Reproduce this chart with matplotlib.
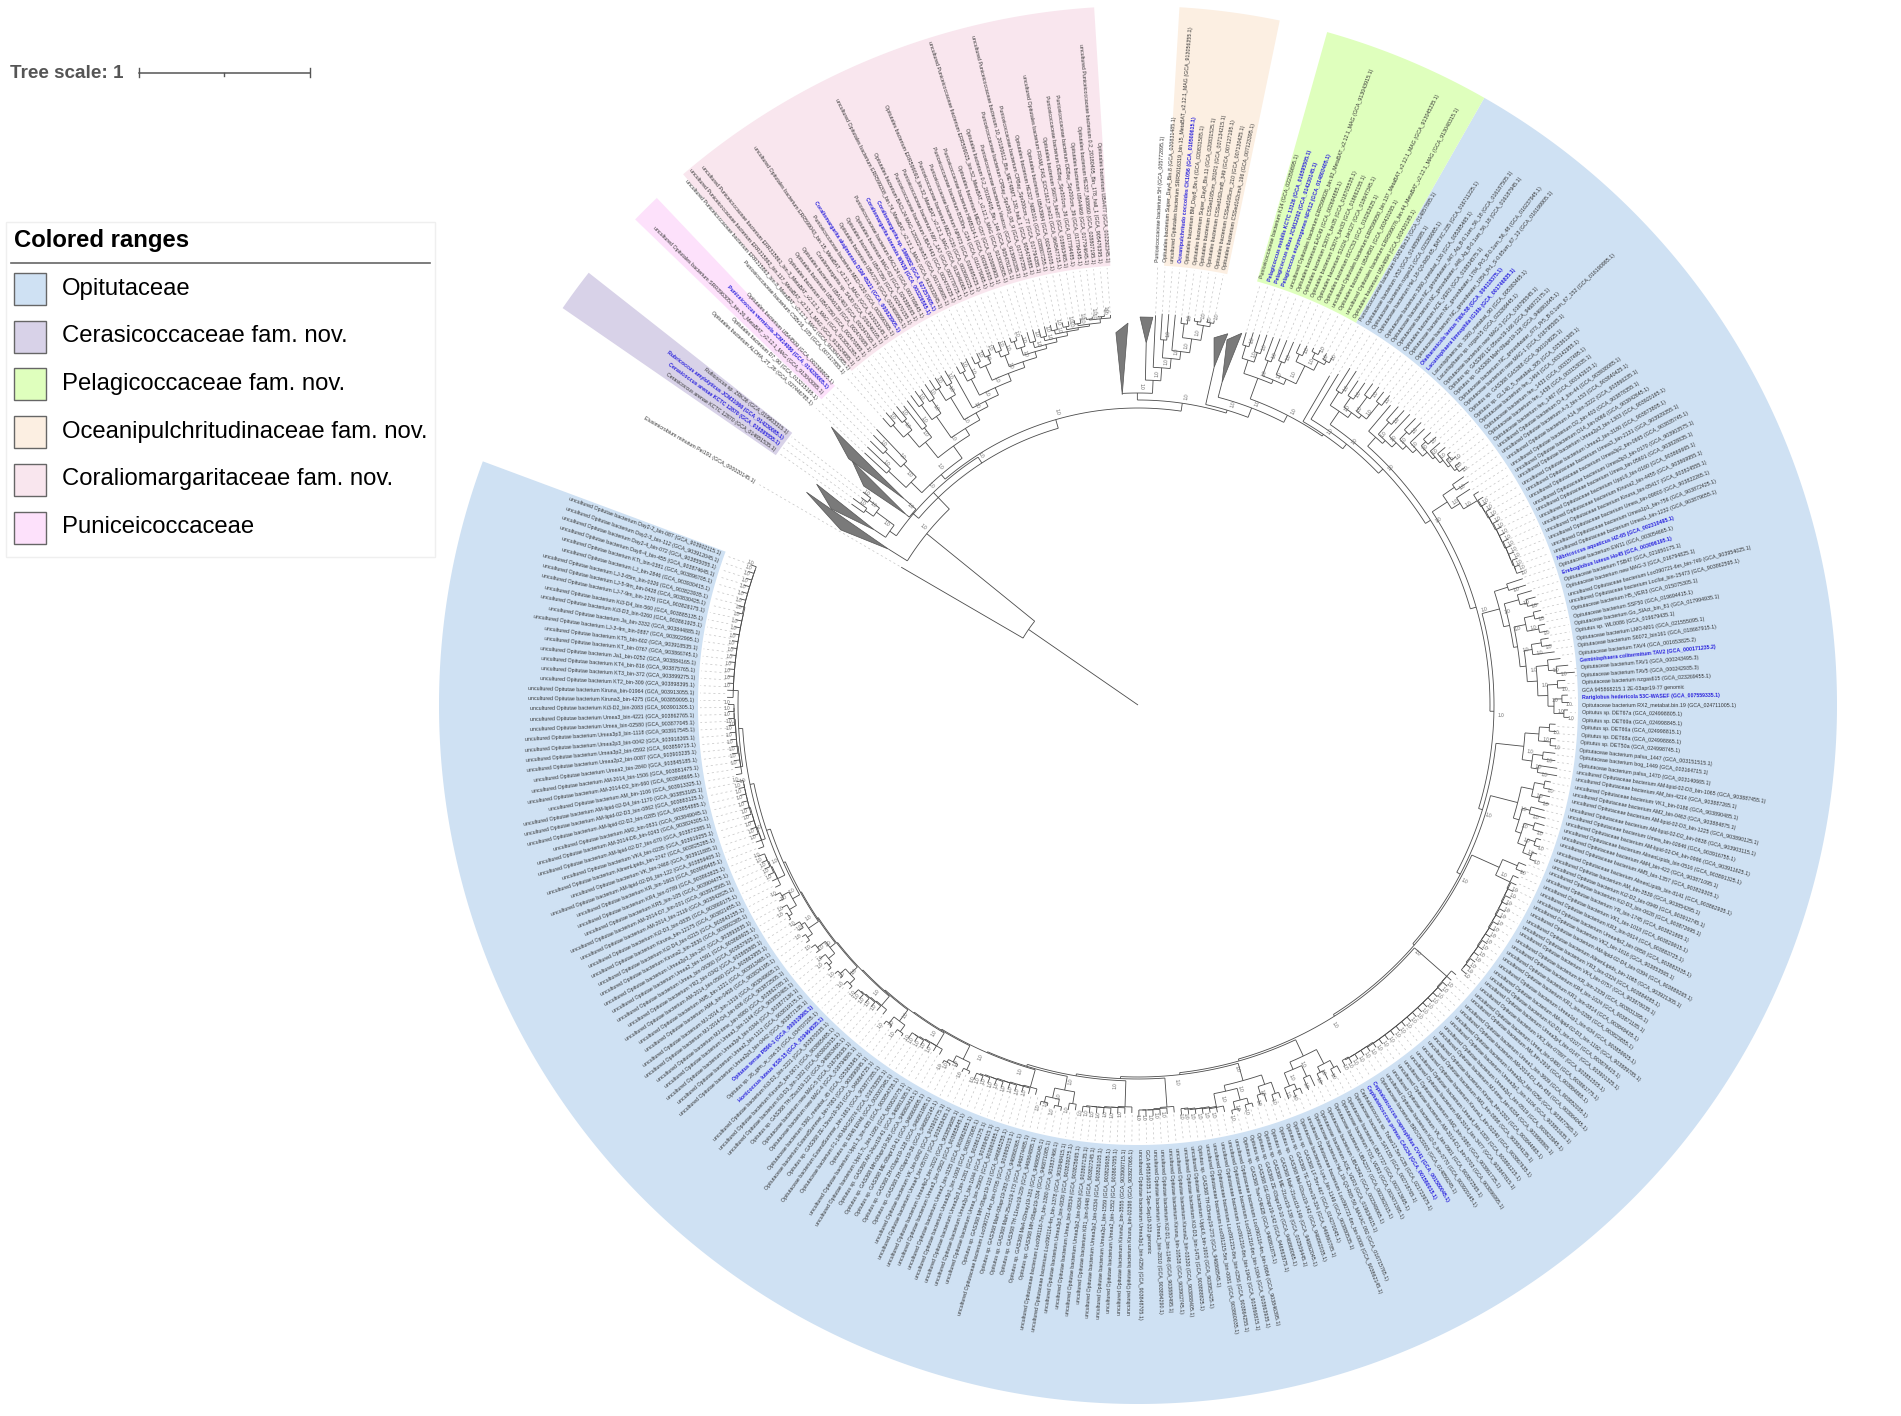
import numpy as np
import matplotlib
matplotlib.use("Agg")
import matplotlib.pyplot as plt
from matplotlib.collections import LineCollection
from matplotlib.patches import Polygon, Rectangle

plt.rcParams["font.family"] = ["Liberation Sans", "DejaVu Sans"]

W, H = 1901, 1416
CX, CY = 1138, 705

# shorthand prefixes for the leaf names
PRE = {
    "u:": "uncultured Opitutae bacterium ",
    "a:": "uncultured Opitutaceae bacterium ",
    "o:": "Opitutaceae bacterium ",
    "s:": "Opitutus sp. GAS368 ",
    "d:": "Opitutus sp. ",
    "t:": "Opitutales bacterium ",
    "p:": "Puniceicoccaceae bacterium ",
    "q:": "uncultured Puniceicoccaceae bacterium ",
    "v:": "uncultured Opitutales bacterium ",
}

BOLD_NAMES = ["Oleiharenicola", "Lacunisphaera limnophila", "Nibricoccus", "Ereboglobus",
              "Geminisphaera", "Rariglobus", "Cephaloticoccus capnophilus", "Cephaloticoccus primus",
              "Opitutus terrae", "Horticoccus", "Cerasicoccus arenae KCTC 12870 (GCA_016595555",
              "Rubricoccus amylolyticus", "Puniceicoccus", "Coraliomargarita sinensis",
              "Coraliomargarita sp. SM6882", "Coraliomargarita akajimensis", "Oceanipulchritudo",
              "Pelagicoccus"]

OUTGROUP_LABELS = ["Elusimicrobium minutum Pei191 (GCA_000020145.1)"]

CERASI_LABELS = [
    "Cerasicoccus arenae KCTC 12870 (GCA_014651535.1)",
    "Cerasicoccus arenae KCTC 12870 (GCA_016595555.1)",
    "Rubricoccus amylolyticus JCM31066 (GCA_014230085.1)",
    "Rufiicoccus sp. ZRK36 (GCA_019903315.1)",
]

PUNICEI_LABELS = [
    "t:ALOHA_2T_26 (GCA_027446785.1)",
    "t:D7_90 (GCA_013215165.1)",
    "v:SRR3963052_bin.26_MetaBAT_v2.12.1_MAG (GCA_913043085.1)",
    "Puniceicoccus vermicola JCM14086 (GCA_014230005.1)",
    "t:UBA4509 (GCA_002389805.1)",
]

CORALIO_LABELS = [
    "p:CSBr16_105 (GCA_007117855.1)",
    "q:ERR315863_bin.8_MetaBAT_v2.12.1_MAG (GCA_913041985.1)",
    "q:ERR315862_bin.117_MetaBAT_v2.12.1_MAG (GCA_913024985.1)",
    "q:ERR315861_bin.3_MetaBAT_v2.12.1_MAG (GCA_913051265.1)",
    "t:UBA7350 (GCA_002470855.1)",
    "t:UBA6139 (GCA_002470685.1)",
    "t:UBA1463 (GCA_002347065.1)",
    "Coraliomargarita sp. S4J0 (GCA_006246165.1)",
    "v:ERR599043_bin.15_MetaBAT_v2.12.1_MAG (GCA_913023145.1)",
    "p:MED-G30 (GCA_002690385.1)",
    "Coraliomargarita akajimensis DSM 45221 (GCA_000025905.1)",
    "t:UBA7274 (GCA_002469865.1)",
    "t:UBA7350 (GCA_002470155.1)",
    "t:MAG-63 (GCA_024398065.1)",
    "p:BACL24 (GCA_001769645.1)",
    "Coraliomargarita sinensis WN38 (GCA_003226565.1)",
    "Coraliomargarita sp. SM6882 (GCA_027257905.1)",
    "v:ERR599208_bin.74_MetaBAT_v2.12.1_MAG (GCA_913032845.1)",
    "t:BACL24 MAG-120322-bin51 (GCA_001769685.1)",
    "p:UBA7443 (GCA_002470225.1)",
    "p:N9Y_1A7 (GCA_002779725.1)",
    "t:ERR599093_bin.32_MetaBAT_v2.12.1_MAG (GCA_913046065.1)",
    "p:MED-G30 (GCA_002690225.1)",
    "p:NP973 (GCA_018695225.1)",
    "p:BS30m_G34 (GCA_016179065.1)",
    "p:HIMB114-1 (GCA_002691905.1)",
    "t:MED-G57 (GCA_002689905.1)",
    "q:ERR599025_bin.52_MetaBAT_v2.12.1_MAG (GCA_913003505.1)",
    "t:0.2_20180405_Bin_144 (GCA_905476135.1)",
    "p:Vestcoc (GCA_913060285.1)",
    "p:CPBay_Spr300_08_9 (GCA_017797255.1)",
    "q:10_20180612_Bin_MET48MT_130_hall_1 (GCA_905478885.1)",
    "p:CPBay_Spr200cm_77 (GCA_017794285.1)",
    "t:HE327_N0B101 (GCA_028807255.1)",
    "t:UBA3984 (GCA_002430005.1)",
    "v:FRAM_FAS_EOC1617_bin21 (GCA_964547715.1)",
    "t:S6075_bin87 (GCA_018663465.1)",
    "p:DEBay_Spr300cm_36 (GCA_017794485.1)",
    "p:DEBay_Spr200cm_39 (GCA_017794345.1)",
    "t:UBA4469 (GCA_017794645.1)",
    "t:HE327_N08660 (GCA_028807195.1)",
    "q:0.2_20180405_Bin_178_hall_1 (GCA_905476395.1)",
    "t:UBA477 (GCA_002292345.1)",
]

OCEANI_LABELS = [
    "p:5H (GCA_005772895.1)",
    "t:Super_Day4_Bin.8 (GCA_020831485.1)",
    "v:SRR5016319_bin.15_MetaBAT_v2.12.1_MAG (GCA_913056355.1)",
    "Oceanipulchritudo coccoides CK1056 (GCA_010500615.1)",
    "t:BM_Day8_Bin.4 (GCA_020831585.1)",
    "t:Super_Day8_Bin.11 (GCA_020831525.1)",
    "t:CSSed165cm_301R1 (GCA_007134215.1)",
    "t:CSSed162cmB_349 (GCA_007127195.1)",
    "t:CSSed165cm_210 (GCA_007130425.1)",
    "t:CSSed162cmA_196 (GCA_007123395.1)",
]

PELAGI_LABELS = [
    "p:K14 (GCA_022359895.1)",
    "Pelagicoccus mobilis KCTC 13126 (GCA_016595505.1)",
    "Pelagicoccus albus JCM12202 (GCA_014230145.1)",
    "Pelagicoccus enzymogenes NFK12 (GCA_014803405.1)",
    "v:ERR599026_bin.92_MetaBAT_v2.12.1_MAG (GCA_913043915.1)",
    "t:EAC49 (GCA_002694885.1)",
    "t:S3074_bin35 (GCA_018705535.1)",
    "t:S3074_bin33 (GCA_018662155.1)",
    "t:S1024_bin127 (GCA_018647345.1)",
    "t:ISCC53 (GCA_018262825.1)",
    "v:ERR599050_bin.137_MetaBAT_v2.12.1_MAG (GCA_913045235.1)",
    "t:UBA4581 (GCA_003420265.1)",
    "v:ERR599076_bin.44_MetaBAT_v2.12.1_MAG (GCA_913048315.1)",
    "t:UBA4894 (GCA_003420185.1)",
]

# clockwise from the green range down the right side, along the bottom and up the left
OPITU_LABELS = [
    "p:PLM2 Bin13 (GCA_014857885.1)", "o:V53 (GCA_014859685.1)", "o:nzgas21 (GCA_023269085.1)",
    "o:Hel_18-Q3-R65-65_BATXC.235 (GCA_016711225.1)", "o:3360_metabat_126 (GCA_005385465.1)",
    "o:NC_groundwater_447_Ag_B-0.1um_56_18 (GCA_016187505.1)",
    "o:NC_groundwater_448_Ag_B-0.1um_56_18 (GCA_016187945.1)", "t:ACE_VER3 (GCA_018834575.1)",
    "o:NC_groundwater_1784_Pr3_B-0.1um_56_48 (GCA_016237945.1)",
    "o:NC_groundwater_1054_Pr1_S-0.65um_67_13 (GCA_016199905.1)",
    "Oleiharenicola lentus TWA-58 (GCA_004118375.1)", "Lacunisphaera limnophila IG16b (GCA_001746835.1)",
    "Lacunisphaera sp. 3360_metabat_90 (GCA_005383465.1)", "Lacunisphaera sp. nzgas15 (GCA_023269445.1)",
    "o:new MAG-3 (GCA_016795545.1)", "s:LE-05nov19-166 (GCA_946872175.1)",
    "s:MaH-09apr19-128 (GCA_946861645.1)", "o:NC_groundwater_673_Pr5_B-0.1um_67_152 (GCA_016190985.1)",
    "o:new MAG-1 (GCA_016795565.1)", "s:GAS368 (GCA_900104925.1)", "d:GL140_5_metabat_305 (GCA_025361365.1)",
    "o:fen_1464 (GCA_003142955.1)", "o:fen_1433 (GCA_003157495.1)", "o:fen_1438 (GCA_003153035.1)",
    "o:fen_1467 (GCA_003142615.1)", "u:D-4_bin-44 (GCA_903938085.1)", "u:A-3_bin-153 (GCA_903840425.1)",
    "u:A14_bin-3222 (GCA_903866235.1)", "u:D2_bin-403 (GCA_903878355.1)", "u:D14_bin-0066 (GCA_903842645.1)",
    "u:Umea2p3_bin-1303 (GCA_903920165.1)", "u:Umea2_bin-3180 (GCA_903873805.1)",
    "a:Umea3_bin-2131 (GCA_903929355.1)", "a:Umea3p2_bin-0665 (GCA_903835745.1)",
    "a:Umea3p3_bin-0170 (GCA_903903575.1)", "a:Umea_bin-05601 (GCA_903828835.1)",
    "a:UppL6_bin-0160 (GCA_903869665.1)", "a:Kiruna2_bin-4455 (GCA_903869955.1)",
    "a:Kiruna_bin-05417 (GCA_903824555.1)", "a:Umea_bin-09803 (GCA_903822265.1)",
    "a:Umea1p1_bin-756 (GCA_903872425.1)", "a:Umea1_bin-1232 (GCA_903879655.1)",
    "Nibricoccus aquaticus HZ-65 (GCA_002310495.1)", "o:EW11 (GCA_003054665.1)",
    "Ereboglobus luteus Ho45 (GCA_003096195.1)", "o:TSB47 (GCA_021650175.1)", "o:new MAG-3 (GCA_016794825.1)",
    "a:Loc090721-6m_bin-749 (GCA_903954025.1)", "a:LocIlat_bin-15473 (GCA_903862595.1)",
    "o:H5_VER3 (GCA_015075305.1)", "o:SSF50 (GCA_019694415.1)", "o:Go_SlAct_bin_81 (GCA_017994935.1)",
    "d:WL0086 (GCA_019679435.1)", "o:LMO-M01 (GCA_021555095.1)", "o:S6072_bin161 (GCA_018667915.1)",
    "o:TAV4 (GCA_001653825.2)", "Geminisphaera colitermitum TAV2 (GCA_000171235.2)", "o:TAV1 (GCA_000243495.3)",
    "o:TAV5 (GCA_000242935.3)", "o:nzgas615 (GCA_023269455.1)", "GCA 945868215.1 2E-03apr19-77 genomic",
    "Rariglobus hedericola 53C-WASEF (GCA_007559335.1)", "o:RX2_metabat.bin.19 (GCA_024711005.1)",
    "d:DET67a (GCA_024998805.1)", "d:DET69a (GCA_024998845.1)", "d:DET66a (GCA_024998815.1)",
    "d:DET68a (GCA_024998865.1)", "d:DET50a (GCA_024998745.1)", "o:palsa_1447 (GCA_003151515.1)",
    "o:bog_1449 (GCA_003164715.1)", "o:palsa_1470 (GCA_003140665.1)",
    "a:AM-lipid-02-D3_bin-1065 (GCA_903887455.1)", "a:AM_bin-4214 (GCA_903887265.1)",
    "a:VK1_bin-0186 (GCA_903890485.1)", "a:AM2_bin-0463 (GCA_903884875.1)",
    "a:AM-lipid-02-D3_bin-1225 (GCA_903890125.1)", "a:AM-lipid-02-D2_bin-0838 (GCA_903903115.1)",
    "a:Umea_bin-02646 (GCA_903916755.1)", "a:AM-lipid-02-D4_bin-0996 (GCA_903911625.1)",
    "a:AlinenLipids_bin-0516 (GCA_903891325.1)", "a:AM4_bin-422 (GCA_903871095.1)",
    "a:AM5_bin-1357 (GCA_903829305.1)", "a:AlinenLipids_bin-8141 (GCA_903862935.1)",
    "u:AM_bin-3539 (GCA_903854295.1)", "u:Ki2-D2_bin-0949 (GCA_903912745.1)",
    "u:Ki2-D3_bin-0628 (GCA_903872695.1)", "u:YR_bin-1745 (GCA_903821865.1)",
    "u:VK1_bin-1018 (GCA_903829915.1)", "u:KR3_bin-0614 (GCA_903883725.1)",
    "u:Umea4p2_bin-0858 (GCA_903883335.1)", "u:VK2_bin-1616 (GCA_903853565.1)",
    "u:AM-lipid-02-D4_bin-0394 (GCA_903889265.1)", "u:AlinenLipids_bin-1065 (GCA_903921305.1)",
    "u:YR3_bin-0324 (GCA_903884085.1)", "u:VK4_bin-0757 (GCA_903878035.1)", "u:KR_bin-2339 (GCA_903831395.1)",
    "u:KR4_bin-1024 (GCA_903871185.1)", "u:KR1_bin-0814 (GCA_903849435.1)", "u:KR1_bin-0288 (GCA_903823855.1)",
    "u:Umea1p1_bin-634 (GCA_903859925.1)", "u:AM-lipid-02-D3_bin-1192 (GCA_903889785.1)",
    "u:Ki2-D1_bin-0107 (GCA_903876415.1)", "u:Umea3p4_bin-0147 (GCA_903901325.1)",
    "u:VK3_bin-07897 (GCA_903851505.1)", "u:Umea_bin-0480 (GCA_903861775.1)", "u:AM_bin-2916 (GCA_903864865.1)",
    "u:Umea1_bin-3609 (GCA_903852035.1)", "u:AM-2014-D1_bin-456 (GCA_903864045.1)",
    "u:Umea2p2_bin-0256 (GCA_903877565.1)", "u:Umea3p1_bin-1104 (GCA_903851635.1)",
    "u:Umea2p1_bin-0519 (GCA_903823945.1)", "u:MJ-time_bin-6334 (GCA_903888865.1)",
    "u:Kiruna_bin-2202 (GCA_903844865.1)", "u:AM1_bin-0898 (GCA_903834135.1)",
    "u:Kiruna1_bin-02240 (GCA_903867635.1)", "u:Umea4_bin-1820 (GCA_903891215.1)",
    "u:AM-2014_bin-3477 (GCA_903847815.1)", "u:AM2_bin-0980 (GCA_903861735.1)",
    "u:AM-2014-D1_bin-0703 (GCA_903896995.1)", "u:VK_bin-0901 (GCA_903872565.1)",
    "u:Ki2-0_bin-0770 (GCA_903920145.1)", "o:BROOKS003 (GCA_014859245.1)",
    "Cephaloticoccus capnophilus CV41 (GCA_001580045.1)", "Cephaloticoccus primus CAG34 (GCA_001580015.1)",
    "Cephaloticoccus sp. Tobar12.5m-G35 (GCA_021723975.1)", "o:SAT155 (GCA_002718765.1)",
    "o:UBA7727 (GCA_002713695.1)", "o:TOS_VER3 (GCA_002471395.1)", "o:UBA2377 (GCA_002362015.1)",
    "o:UBA2842 (GCA_002349065.1)", "o:AOE_VER3 (GCA_019634615.1)",
    "o:Hel_19-Q3-R65-59_MAXAC.092 (GCA_016715765.1)", "a:Loc090721-6m_bin-0008 (GCA_903862145.1)",
    "o:Lyac_bin-1149 (GCA_903880535.1)", "s:LF-5nv-467 (GCA_014270045.1)", "s:TE-12nov19-324 (GCA_946860785.1)",
    "s:MeI-02oct19-142 (GCA_946862035.1)", "s:MaK-21oct19-149 (GCA_946862045.1)",
    "s:ME-21oct19-138 (GCA_002509445.1)", "s:ZE-03apr19-10 (GCA_946868065.1)",
    "s:GE-02apr19-142 (GCA_946863875.1)", "s:Tsw-O4KEB (GCA_946861875.1)",
    "a:Loc090116-4m_bin-0984 (GCA_903846395.1)", "a:Loc091216-6m_bin-1004 (GCA_903863935.1)",
    "a:Loc091216-8m_bin-1942 (GCA_903866815.1)", "a:Loc091215-8m_bin-0256 (GCA_903864255.1)",
    "a:Loc091215-5m_bin-0081 (GCA_903860035.1)", "s:TH-03may19-273 (GCA_946868545.1)",
    "u:UppL6_bin-1600 (GCA_903952425.1)", "u:Ki3-D3_bin-1475 (GCA_903888825.1)",
    "u:Kiruna2_bin-03320 (GCA_903888405.1)", "u:Kiruna_bin-10528 (GCA_903902745.1)",
    "u:Ki2-D1_bin-1146 (GCA_903880495.1)", "u:Umea1_bin-2810 (GCA_903894290.1)",
    "GCA 945816035.1 Spe-Sep19-323 genomic", "u:Umea3p1_bin-0256 (GCA_903848705.1)",
    "u:Kiruna_bin-02398 (GCA_903927065.1)", "u:Kiruna2_bin-3555 (GCA_903900715.1)",
    "u:Umea2_bin-1552 (GCA_903867055.1)", "u:Umea2p1_bin-1559 (GCA_903829935.1)",
    "u:Umea3p2_bin-0334 (GCA_903826105.1)", "u:KR1_bin-0448 (GCA_903827245.1)",
    "u:Umea3p2_bin-0634 (GCA_903867135.1)", "u:Umea_bin-08534 (GCA_903825665.1)",
    "u:Umea3p3_bin-0826 (GCA_903839375.1)", "a:Loc090114-4m_bin-1378 (GCA_903848415.1)",
    "a:Loc090116-7m_bin-1380 (GCA_903837466.1)", "s:MH-08apr19-334 (GCA_946871085.1)",
    "s:MeA-02may19-181 (GCA_946865045.1)", "s:TH-11nov19-229 (GCA_946864885.1)",
    "s:MaH-25oct19-173 (GCA_946874485.1)", "s:MaH-08apr19-283 (GCA_946868365.1)",
    "a:Loc090721-4m_bin-0705 (GCA_903865015.1)", "s:MH-08apr19-110 (GCA_946865255.1)",
    "u:Umea_bin-25902 (GCA_903860885.1)", "u:Umea2p1_bin-1044 (GCA_903864515.1)",
    "u:Umea2p3_bin-1281 (GCA_903861275.1)", "u:Umea3p1_bin-1008 (GCA_903873085.1)",
    "u:Umea2_bin-3155 (GCA_903862855.1)", "u:Umea3_bin-0562 (GCA_903885845.1)",
    "u:Umea4p2_bin-2022 (GCA_903859685.1)", "u:Umea4_bin-05707 (GCA_903828435.1)",
    "u:VK_bin-0842 (GCA_903906775.1)", "s:ZH-03apr19-36 (GCA_946882145.1)",
    "s:ZH-03apr19-128 (GCA_946861985.1)", "s:ME-08apr19-41 (GCA_946860905.1)",
    "s:MH-08apr19-363 (GCA_946863415.1)", "s:AH-24oct19-41 (GCA_946861305.1)",
    "u:Upp1.7L_bin-1095 (GCA_903820775.1)", "u:Upp1.3_bin-435 (GCA_903854735.1)", "d:ER46 ER46 (GCA_002007945.1)",
    "o:F1-140-MAGS074 (GCA_016783555.1)", "o:ExtendSummer_bin-1681 (GCA_903877285.1)",
    "s:ZE-13nov19-303 (GCA_946864725.1)", "o:ExtendSummer_bin-7083 (GCA_903890845.1)",
    "o:3360_metabat_45 (GCA_025363845.1)", "o:new MAG-4 (GCA_016794865.1)", "o:new MAG-5 (GCA_016795635.1)",
    "s:TH-25oct19-122 (GCA_946863485.1)", "u:Ki3-D3_bin-1202 (GCA_903902915.1)",
    "u:Kiruna3_bin-0671 (GCA_903865485.1)", "u:Ki3-D2_bin-2221 (GCA_903870035.1)",
    "Horticoccus luteus KS8-15 (GCA_019464535.1)", "d:26_gtm_w_csw.15 (GCA_034707205.1)",
    "Opitutus terrae PB90-1 (GCA_000019965.1)", "u:Umea2p3_bin-0442 (GCA_903877135.1)",
    "u:Umea2_bin-1112 (GCA_903819175.1)", "u:Umea3p4_bin-0344 (GCA_903877136.1)",
    "u:Umea3_bin-1144 (GCA_903852465.1)", "u:MJ-time_bin-8980 (GCA_903862785.1)",
    "u:MJ-2014-D4_bin-606 (GCA_903872505.1)", "u:MJ-2014_bin-1319 (GCA_903849605.1)",
    "u:AM4_bin-0408 (GCA_903824195.1)", "u:AM5_bin-1221 (GCA_903913465.1)",
    "u:AM-2014_bin-0560 (GCA_903862955.1)", "u:YR2_bin-0342 (GCA_903865865.1)",
    "u:Umea_bin-06360 (GCA_903837905.1)", "u:Umea2_bin-1591 (GCA_903869925.1)",
    "u:Umea2p3_bin-247 (GCA_903893835.1)", "u:Kiruna2_bin-2830 (GCA_903892385.1)",
    "u:Ki2-D4_bin-0215 (GCA_903843155.1)", "u:Kiruna_bin-12175 (GCA_903821455.1)",
    "u:Ki2-D3_bin-0835 (GCA_903869175.1)", "u:AM-2014_bin-2119 (GCA_903842825.1)",
    "u:AM-2014-D7_bin-001 (GCA_903913565.1)", "u:KR5_bin-105 (GCA_903904475.1)",
    "u:KR4_bin-0789 (GCA_903863825.1)", "u:KR_bin-1663 (GCA_903909485.1)",
    "u:AM-lipid-02-D6_bin-122 (GCA_903859405.1)", "u:VK_bin-2468 (GCA_903911885.1)",
    "u:AlinenLipids_bin-2747 (GCA_903825285.1)", "u:VK4_bin-0235 (GCA_903919255.1)",
    "u:AM-lipid-02-D7_bin-670 (GCA_903872385.1)", "u:AM-2014-D8_bin-0243 (GCA_903824305.1)",
    "u:AM2_bin-0831 (GCA_903849045.1)", "u:AM-lipid-02-D2_bin-0285 (GCA_903854885.1)",
    "u:AM-lipid-02-D3_bin-0862 (GCA_903883125.1)", "u:AM-lipid-02-D4_bin-1170 (GCA_903853165.1)",
    "u:AM_bin-1106 (GCA_903913325.1)", "u:AM-2014-D2_bin-660 (GCA_903848695.1)",
    "u:AM-2014_bin-1506 (GCA_903881475.1)", "u:Umea2_bin-2840 (GCA_903845185.1)",
    "u:Umea2p2_bin-0087 (GCA_903903235.1)", "u:Umea3p2_bin-0592 (GCA_903859715.1)",
    "u:Umea2p3_bin-0042 (GCA_903918265.1)", "u:Umea3p3_bin-1118 (GCA_903917545.1)",
    "u:Umea_bin-02580 (GCA_903877045.1)", "u:Umea3_bin-4221 (GCA_903862765.1)",
    "u:Ki3-D2_bin-2083 (GCA_903901305.1)", "u:Kiruna3_bin-4275 (GCA_903859095.1)",
    "u:Kiruna_bin-01964 (GCA_903913055.1)", "u:KT2_bin-309 (GCA_903898395.1)",
    "u:KT3_bin-372 (GCA_903899275.1)", "u:KT4_bin-816 (GCA_903875765.1)", "u:Ja1_bin-0252 (GCA_903884165.1)",
    "u:KT_bin-0767 (GCA_903866745.1)", "u:KT5_bin-602 (GCA_903918535.1)", "u:LJ-3-4m_bin-0887 (GCA_903922995.1)",
    "u:Ja_bin-3332 (GCA_903844885.1)", "u:Ki3-D3_bin-0260 (GCA_903861925.1)", "u:Ki3-D4_bin-560 (GCA_903885135.1)",
    "u:LJ-7-9m_bin-1276 (GCA_903826175.1)", "u:LJ-5-9m_bin-0428 (GCA_903830425.1)",
    "u:LJ-3-65m_bin-0326 (GCA_903823935.1)", "u:LJ_bin-2846 (GCA_903930415.1)", "u:KTt_bin-0381 (GCA_903896705.1)",
    "u:Day6-4_bin-455 (GCA_903874645.1)", "u:Day2-4_bin-072 (GCA_903855055.1)", "u:Day2-3_bin-112 (GCA_903912045.1)",
    "u:Day2-2_bin-087 (GCA_903902115.1)",
]

LEGEND_NAMES = ["Opitutaceae", "Cerasicoccaceae fam. nov.", "Pelagicoccaceae fam. nov.",
                "Oceanipulchritudinaceae fam. nov.", "Coraliomargaritaceae fam. nov.", "Puniceicoccaceae"]
LEGEND_COLORS = ["#cfe1f3", "#d8d2e8", "#dfffbd", "#fcefe2", "#f9e6ee", "#fde1fb"]

# (colour, start angle, end angle) in degrees, clockwise
RANGES = [("#cfe1f3", 60.3, -200.4), ("#d8d2e8", 145.4, 141.8), ("#dfffbd", 74.3, 60.3),
          ("#fcefe2", 86.6, 78.3), ("#f9e6ee", 130.6, 93.6), ("#fde1fb", 136.0, 133.5)]


def lad(rs, clades):
    node = clades[-1]
    for r, c in zip(rs[::-1], clades[-2::-1]):
        node = (r, c, node)
    return node


def comb(*tips):
    node = (min(tips[-2:]) - 6, tips[-2], tips[-1])
    for t in tips[-3::-1]:
        node = (t - 6, t, node)
    return node


# tree nodes: (radius, child, child, ...), a plain int is a tip radius,
# ("T", ...) is a collapsed clade: apex angle/radius then the two far corners
T1 = ("T", 148.0, 294, 149.5, 345, 147.3, 394)
T2 = ("T", 146.4, 316, 147.4, 364, 145.5, 390)
T3 = ("T", 138.6, 311, 139.6, 380, 137.8, 414)
T4 = ("T", 140.6, 300, 141.4, 351, 139.5, 376)
T5 = ("T", 88.7, 362, 89.7, 388, 87.8, 388)
T6 = ("T", 77.3, 346, 78.3, 375, 76.4, 382)
T7 = ("T", 75.4, 333, 76.3, 376, 74.4, 386)
T8 = ("T", 92.9, 311, 93.4, 373, 91.5, 382)

CERASI_TREE = (325, (335, 350, 352), (338, 346, 348))
PUNICEI_TREE = (318, (342, 372, 374), (336, (358, 376, 378), 380))
CORALIO_TREE = lad(
    [318, 326, 334, 340, 348, 356, 362, 368, 372, 376, 380, 382, 384],
    [(338, (356, (372, 384, 386), (368, 382, 384)), (350, 380, 382)),
     (352, (370, 384, 385), (368, 383, 385)),
     (360, (374, 386, 385), (372, 384, 386)),
     378,
     (366, (376, 384, 386), 387),
     (372, (378, 386, 387), (380, 388, 386)),
     (374, (380, 388, 389), 388),
     (376, (384, 389, 388), 388),
     (378, 389, 390),
     (380, 389, 390),
     (384, 390, 391),
     (385, 390, 390),
     (386, 390, 391),
     (388, (389, 391, 391), (390, 391, 392), 391)])
OCEANI_TREE = (338, 390, (348, (366, 392, 392), (356, 392, (370, (384, 390, 392),
               (385, (388, 391, 391), (389, 392, 392))))))
PELAGI_TREE = (348, (362, (375, 388, 390), (372, 390, 392)),
               (352, (368, 392, 393), (358, (372, 394, 395), (378, (386, 396, 397),
                (388, (394, 398, 399), (392, 399, 399))))))
OPITU_R = [328, 334, 340, 346, 352, 356, 360, 364, 366, 368, 370, 372, 374, 376, 378, 379, 380, 381,
           382, 383, 384, 385, 386, 388, 392, 396, 400]
OPITU_CLADES = [
    381,
    387,
    (356, (372, 398, 399), (362, (374, 392, 394), (366, (384, 398, 399), (386, 398, 399)))),
    (358, 392, (362, (378, 396, 397), (368, 398, (373, (383, 399, 400), (378, 398, (384, (390, 400, 401),
     (387, 400, (391, 401, (394, (398, 402, 403), (397, 403, 404)))))))))),
    (370, (384, 398, 399), (380, 396, comb(402, 403, 403, 404, 404, 405, 405, 405, 406, 406, 406, 407, 407, 408))),
    (374, (388, 405, 406), (380, (395, 410, (402, 412, 413)), (384, (396, (406, 414, 415), (408, 415, 416)),
     (390, (398, (408, 416, 418), 420),
      (400, (412, 425, (420, 432, 438)), (410, (420, 428, 428), (416, (424, 430, 431), (426, 430, 431)))))))),
    (388, (402, (412, 418, 419), (414, 419, 420)), (398, (408, 420, 421), (405, 424, 425))),
    (392, (404, (414, 420, 422), (412, 422, 423)), (398, (406, 420, 423),
     (404, (414, 424, 425), (412, (420, 425, 426), (421, 426, 427))))),
    (396, (412, 420, 421), comb(418, 419, 419, 420, 420, 421, 421, 422, 422, 422, 423, 423, 423, 424, 424, 424)),
    comb(417, 417, 418, 418, 418, 418, 418, 418, 418, 418, 418, 418, 418, 418, 418, 417, 417, 417, 417, 417, 416),
    (388, (404, (412, 420, 421), (410, 420, 422)), (396, (408, 420, 421), (410, (416, 422, 423), 422))),
    (390, (400, (412, 418, 419), (408, 417, 418)), (396, (408, (414, 418, 419), (416, 419, 420)),
     comb(416, 415, 414, 414, 413, 412, 412))),
    comb(409, 410, 411, 411, 411, 412),
    comb(408, 409, 409, 410, 410, 410, 411, 411),
    (392, (404, 410, 411), (402, (409, 413, 412), (408, 411, 412))),
    comb(403, 404, 404, 405, 405, 406, 406, 407, 408, 409),
    (395, (403, 406, 407), (402, 405, (405, 407, 408))),
    comb(402, 402, 403, 404, 404, 405),
    (396, (404, 407, 408), (404, 407, 408)),
    comb(401, 402, 403, 404, 405, 405),
    (394, (401, 405, 406), (401, 404, 405)),
    (392, (400, (404, 408, 407), 407), (402, 406, 407)),
    (398, (404, 408, 408), (402, 407, 409)),
    (396, (404, (408, 410, 410), 410), (404, 409, 410)),
    comb(406, 406, 407, 408, 408, 409),
    comb(406, 406, 407, 407, 407, 408, 408, 408, 408, 408, 409),
    comb(408, 408, 408, 409, 409, 409, 409, 410, 410, 410, 410),
    comb(411, 411, 411, 411, 411, 411, 411, 411, 411, 411, 411, 411, 412, 412, 412, 412, 412, 412, 412, 412),
]
OPITU_TREE = lad(OPITU_R, OPITU_CLADES)

ORANGE_NODE = (325, T5, OCEANI_TREE)
MIDDLE_NODE = (312, T8, ORANGE_NODE)
RIGHT_NODE = (308, T6, (318, T7, (326, PELAGI_TREE, OPITU_TREE)))
UPPER_NODE = (303, PUNICEI_TREE, CORALIO_TREE)
BIG_NODE = (297, UPPER_NODE, (305, MIDDLE_NODE, RIGHT_NODE))
LEFT_NODE = (288, (296, T4, T3), BIG_NODE)
MAIN_NODE = (272, T1, (295, (303, T2, CERASI_TREE), LEFT_NODE))
ROOT_NODE = (133, 274, MAIN_NODE)

# tip order, clockwise: (subtree, start angle, end angle, labels)
TIP_GROUPS = [(274, 149.8, 149.8, OUTGROUP_LABELS),
              (CERASI_TREE, 145.4, 141.8, CERASI_LABELS),
              (PUNICEI_TREE, 137.8, 133.0, PUNICEI_LABELS),
              (CORALIO_TREE, 132.1, 93.6, CORALIO_LABELS),
              (OCEANI_TREE, 87.9, 78.3, OCEANI_LABELS),
              (PELAGI_TREE, 74.3, 60.3, PELAGI_LABELS),
              (OPITU_TREE, 60.3, -200.4, OPITU_LABELS)]


def xy(angle, r):
    t = np.radians(angle)
    return CX + r * np.cos(t), CY - r * np.sin(t)


def count_tips(node):
    if isinstance(node, int):
        return 1
    if node[0] == "T":
        return 0
    return sum(count_tips(k) for k in node[1:])


def spaced(a0, a1, n):
    if n == 1:
        return [a0]
    return [a0 + (i + 0.5) * (a1 - a0) / n for i in range(n)]


tip_queue = []
for sub, a0, a1, _ in TIP_GROUPS:
    tip_queue += spaced(a0, a1, count_tips(sub))
tip_queue = iter(tip_queue)

segments = []
triangles = []
tips = []
nodes = []


def layout(node):
    if isinstance(node, int):
        a = next(tip_queue)
        tips.append((a, node))
        return a, node
    if node[0] == "T":
        triangles.append(node)
        return node[1], node[2]
    r = node[0]
    kids = [layout(k) for k in node[1:]]
    for a, kr in kids:
        segments.append([xy(a, r), xy(a, kr)])
    first, last = kids[0][0], kids[-1][0]
    steps = max(2, int(abs(first - last)) + 2)
    segments.append([xy(t, r) for t in np.linspace(first, last, steps)])
    mid = (first + last) / 2
    nodes.append((mid, r))
    return mid, r


root_angle, root_r = layout(ROOT_NODE)
segments.append([xy(root_angle, 0), xy(root_angle, root_r)])

fig = plt.figure(figsize=(W / 100, H / 100), dpi=100)
ax = fig.add_axes([0, 0, 1, 1])
ax.set_xlim(0, W)
ax.set_ylim(H, 0)
ax.axis("off")

# coloured ranges
for color, a0, a1 in RANGES:
    t = np.linspace(a0, a1, max(2, int(abs(a1 - a0) * 2)))
    outer = [xy(v, 699) for v in t]
    inner = [xy(v, 440) for v in t[::-1]]
    ax.add_patch(Polygon(outer + inner, closed=True, facecolor=color, edgecolor="none", zorder=1))

tip_a = np.array([t[0] for t in tips])
tip_r = np.array([t[1] for t in tips])

# leader lines and leaf labels
for sub, a0, a1, labels in TIP_GROUPS:
    for a, name in zip(spaced(a0, a1, len(labels)), labels):
        start = tip_r[np.argmin(np.abs(tip_a - a))]
        x0, y0 = xy(a, start + 2)
        x1, y1 = xy(a, 438)
        ax.plot([x0, x1], [y0, y1], color="#c4c4c4", lw=0.5, ls=(0, (3, 4)), zorder=2)
        text = PRE[name[:2]] + name[2:] if name[:2] in PRE else name
        bold = any(text.startswith(b) for b in BOLD_NAMES)
        x, y = xy(a, 444)
        right_side = np.cos(np.radians(a)) >= 0
        ax.text(x, y, text, fontsize=3.8, color="#2a22dd" if bold else "#333333",
                fontweight="bold" if bold else "normal",
                rotation=a % 360 if right_side else (a + 180) % 360,
                rotation_mode="anchor", ha="left" if right_side else "right", va="center", zorder=4)

# tree
ax.add_collection(LineCollection(segments, colors="#4a4a4a", linewidths=0.6, zorder=3))
for _, apex_a, apex_r, a0, r0, a1, r1 in triangles:
    ax.add_patch(Polygon([xy(apex_a, apex_r), xy(a0, r0), xy(a1, r1)], closed=True,
                         facecolor="#7a7a7a", edgecolor="#555555", lw=0.5, zorder=3))
for a, r in nodes[:-1]:
    x, y = xy(a - 0.7, r + 7)
    right_side = np.cos(np.radians(a)) >= 0
    ax.text(x, y, "1.0", fontsize=3.4, color="#666666", ha="center", va="center",
            rotation=a % 360 if right_side else (a + 180) % 360, rotation_mode="anchor", zorder=4)

# tree scale
ax.text(10, 73, "Tree scale: 1", fontsize=13.6, fontweight="bold", color="#555555", va="center", ha="left")
ax.plot([139, 310], [72.5, 72.5], color="#555555", lw=1.1)
ax.plot([139, 139], [68, 77], color="#555555", lw=1.0)
ax.plot([310, 310], [68, 77], color="#555555", lw=1.0)
ax.plot([224, 224], [72.5, 75.5], color="#555555", lw=1.0)

# legend
ax.add_patch(Rectangle((6, 222), 429, 335, facecolor="white", edgecolor="#efefef", lw=1, zorder=5))
ax.text(14, 241, "Colored ranges", fontsize=17.2, fontweight="bold", color="black", va="center", ha="left", zorder=6)
ax.plot([11, 430], [263, 263], color="#666666", lw=1.2, zorder=6)
for i, (name, color) in enumerate(zip(LEGEND_NAMES, LEGEND_COLORS)):
    top = 273 + i * 47.7
    ax.add_patch(Rectangle((14, top), 32, 32, facecolor=color, edgecolor="#666666", lw=1, zorder=6))
    ax.text(62, top + 15.5, name, fontsize=17.2, color="black", va="center", ha="left", zorder=6)

fig.savefig("out.png", dpi=100)
